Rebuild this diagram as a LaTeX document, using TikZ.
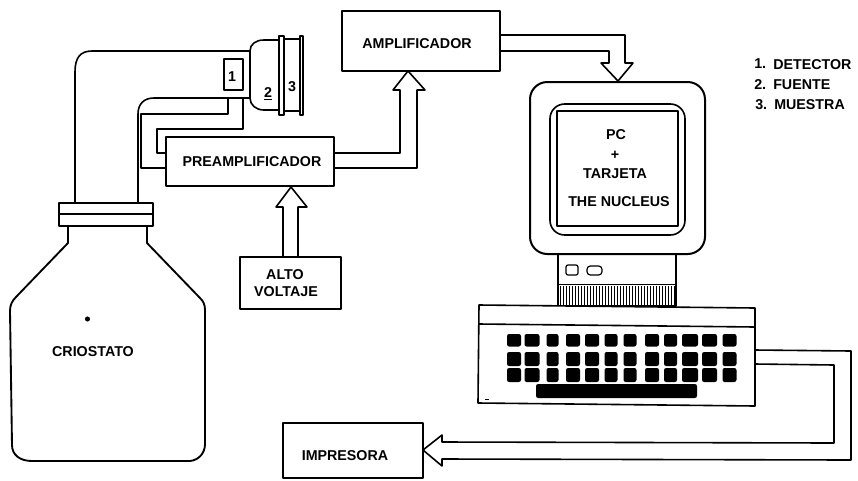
\documentclass[tikz,border=0pt]{standalone}
\usepackage{fontspec}
\setmainfont{Liberation Sans}
\newcommand{\lab}{\fontsize{10.7pt}{12pt}\selectfont\bfseries}
\tikzset{
  ln/.style={draw=black,line width=1.2pt,line join=round},
  boxn/.style={ln,rectangle,inner sep=0pt,outer sep=0pt,fill=white},
  txt/.style={inner sep=0pt,font=\lab,text=black},
  keyk/.style={fill=black,rounded corners=1.6pt},
}
\begin{document}
\begin{tikzpicture}[x=0.75pt,y=-0.75pt]
\useasboundingbox (0,0) rectangle (858,480);
\fill[white] (0,0) rectangle (858,480);
% boxes
\node[boxn,minimum width=126pt,minimum height=36.75pt] (preamp) at (250,161.5) {};
\node[boxn,minimum width=118.5pt,minimum height=45pt] (amp) at (421,41) {};
\node[boxn,minimum width=75.75pt,minimum height=39pt] (alto) at (290.5,283) {};
\node[boxn,minimum width=105pt,minimum height=41.25pt] (impr) at (353,450.5) {};
\node[boxn,minimum width=14.25pt,minimum height=23.25pt] (det) at (233.5,74.5) {};
\node[txt] (tpre) at (252,162) {PREAMPLIFICADOR};
\node[txt] (tamp) at (417,44) {AMPLIFICADOR};
\node[txt] (talto) at (285,275) {ALTO};
\node[txt] (tvolt) at (286,292) {VOLTAJE};
\node[txt] (timp) at (345,456) {IMPRESORA};
\node[txt] (tcrio) at (93,352) {CRIOSTATO};
\node[txt] (tone) at (232,77) {1};
\node[txt] (ttwo) at (268,94) {\underline{2}};
\node[txt] (tthree) at (292,87) {3};
% detector head
\draw[ln] (250,51) .. controls (250,44) and (256,40) .. (264,40) -- (279,40);
\draw[ln] (250,98) .. controls (250,105) and (256,110) .. (264,110) -- (279,110);
\draw[ln] (250,51) -- (250,98);
\draw[ln] (279,36) rectangle (284,115);
\draw[ln] (284,39) -- (300,39) (284,111) -- (300,111);
\draw[ln] (300,36) rectangle (303,115);
% pipes
\draw[ln] (75,203) -- (75,72) .. controls (75,58) and (80,51) .. (92,51) -- (250,51);
\draw[ln] (138,203) -- (138,114) .. controls (138,104) and (144,98) .. (154,98) -- (250,98);
% wires
\coordinate (w1) at (228,98);
\coordinate (w2) at (243,98);
\draw[ln] (w1) -- (228,114) -- (141,114) -- (141,168) -- (preamp.west |- 0,168);
\draw[ln] (w2) -- (243,129) -- (157,129) -- (157,153) -- (preamp.west |- 0,153);
% cryostat
\draw[ln] (59,203) rectangle (153,226);
\draw[ln] (59,214) -- (153,214);
\draw[ln,line width=1.4pt] (68,226) -- (68,243) -- (16,297) .. controls (12,301) and (10,305) .. (10,311) -- (12,445) .. controls (12,455) and (20,461) .. (32,461) -- (190,461) .. controls (199,460) and (205,453) .. (205,444) -- (205,310) .. controls (205,304) and (203,301) .. (200,298) -- (147,243) -- (147,226);
\fill (87.5,319) circle (1.9pt);
% block arrows
\draw[ln] (preamp.east |- 0,153) -- (400,153) -- (400,90) -- (393,90) -- (408,71) -- (425,90) -- (417,90) -- (417,168) -- (preamp.east |- 0,168);
\draw[ln] (alto.north -| 283,0) -- (283,207) -- (276,207) -- (291,187) -- (307,207) -- (298,207) -- (alto.north -| 298,0);
\draw[ln] (amp.east |- 0,35) -- (625,35) -- (625,63) -- (633,63) -- (618,81) -- (601,63) -- (609,63) -- (609,51) -- (amp.east |- 0,51);
% monitor
\node[ln,rectangle,rounded corners=13pt,line width=1.5pt,inner sep=0pt,outer sep=0pt,minimum width=131.25pt,minimum height=129pt] (mon) at (617.5,168) {};
\node[ln,rectangle,rounded corners=11pt,inner sep=0pt,outer sep=0pt,minimum width=101.25pt,minimum height=98.25pt] (moni) at (617.5,169.5) {};
\node[ln,rectangle,inner sep=0pt,outer sep=0pt,line width=1.3pt,minimum width=90.75pt,minimum height=86.25pt] (scr) at (617.5,168.5) {};
\node[txt] (tpc) at (616,135) {PC};
\node[txt] (tplus) at (615,155) {+};
\node[txt] (ttar) at (615,174) {TARJETA};
\node[txt] (tnuc) at (619,202) {THE NUCLEUS};
% base
\node[ln,rectangle,inner sep=0pt,outer sep=0pt,minimum width=88.5pt,minimum height=39pt] (base) at (617,280) {};
\draw[ln] (558,284.5) -- (676,284.5);
\foreach \x in {560.5,563.5,...,675}{\draw[line width=1.1pt] (\x,286) -- (\x,305);}
\draw[ln,rounded corners=1.5pt,line width=.9pt] (566,265) rectangle (578,275);
\draw[ln,rounded corners=2.5pt,line width=.9pt] (587,266) rectangle (602,275);
% keyboard
\draw[ln,fill=white] (479,305) -- (755,308) -- (755,406) -- (478,403) -- cycle;
\draw[ln] (479,324) -- (755,327);
\foreach \x/\w in {514/14,532/15,552.5/12,573/14,592/14,611/13,630/13,652/14,670.5/13,690/16,709.5/15,729.5/14}{
  \fill[keyk] (\x-\w/2,334) rectangle (\x+\w/2,346.5);
  \fill[keyk] (\x-\w/2,352) rectangle (\x+\w/2,366);
  \fill[keyk] (\x-\w/2,368) rectangle (\x+\w/2,382);
}
\fill[keyk] (536,384) rectangle (697,398);
\fill (485,398.5) rectangle (489,400);
% keyboard to printer
\coordinate (k1) at (755,350);
\coordinate (k2) at (755,364);
\draw[ln] (k1) -- (851,351) -- (851,460) -- (442,459) -- (442,466) -- (impr.east |- 0,450) -- (442,435) -- (442,442) -- (834,443) -- (834,365) -- (k2);
% legend
\node[txt,anchor=west] (n1) at (754,64) {1.};
\node[txt,anchor=west] (n2) at (754,85) {2.};
\node[txt,anchor=west] (n3) at (755,105) {3.};
\node[txt,anchor=west] (l1) at (773,65) {DETECTOR};
\node[txt,anchor=west] (l2) at (773,85) {FUENTE};
\node[txt,anchor=west] (l3) at (774,105) {MUESTRA};
\end{tikzpicture}
\end{document}
